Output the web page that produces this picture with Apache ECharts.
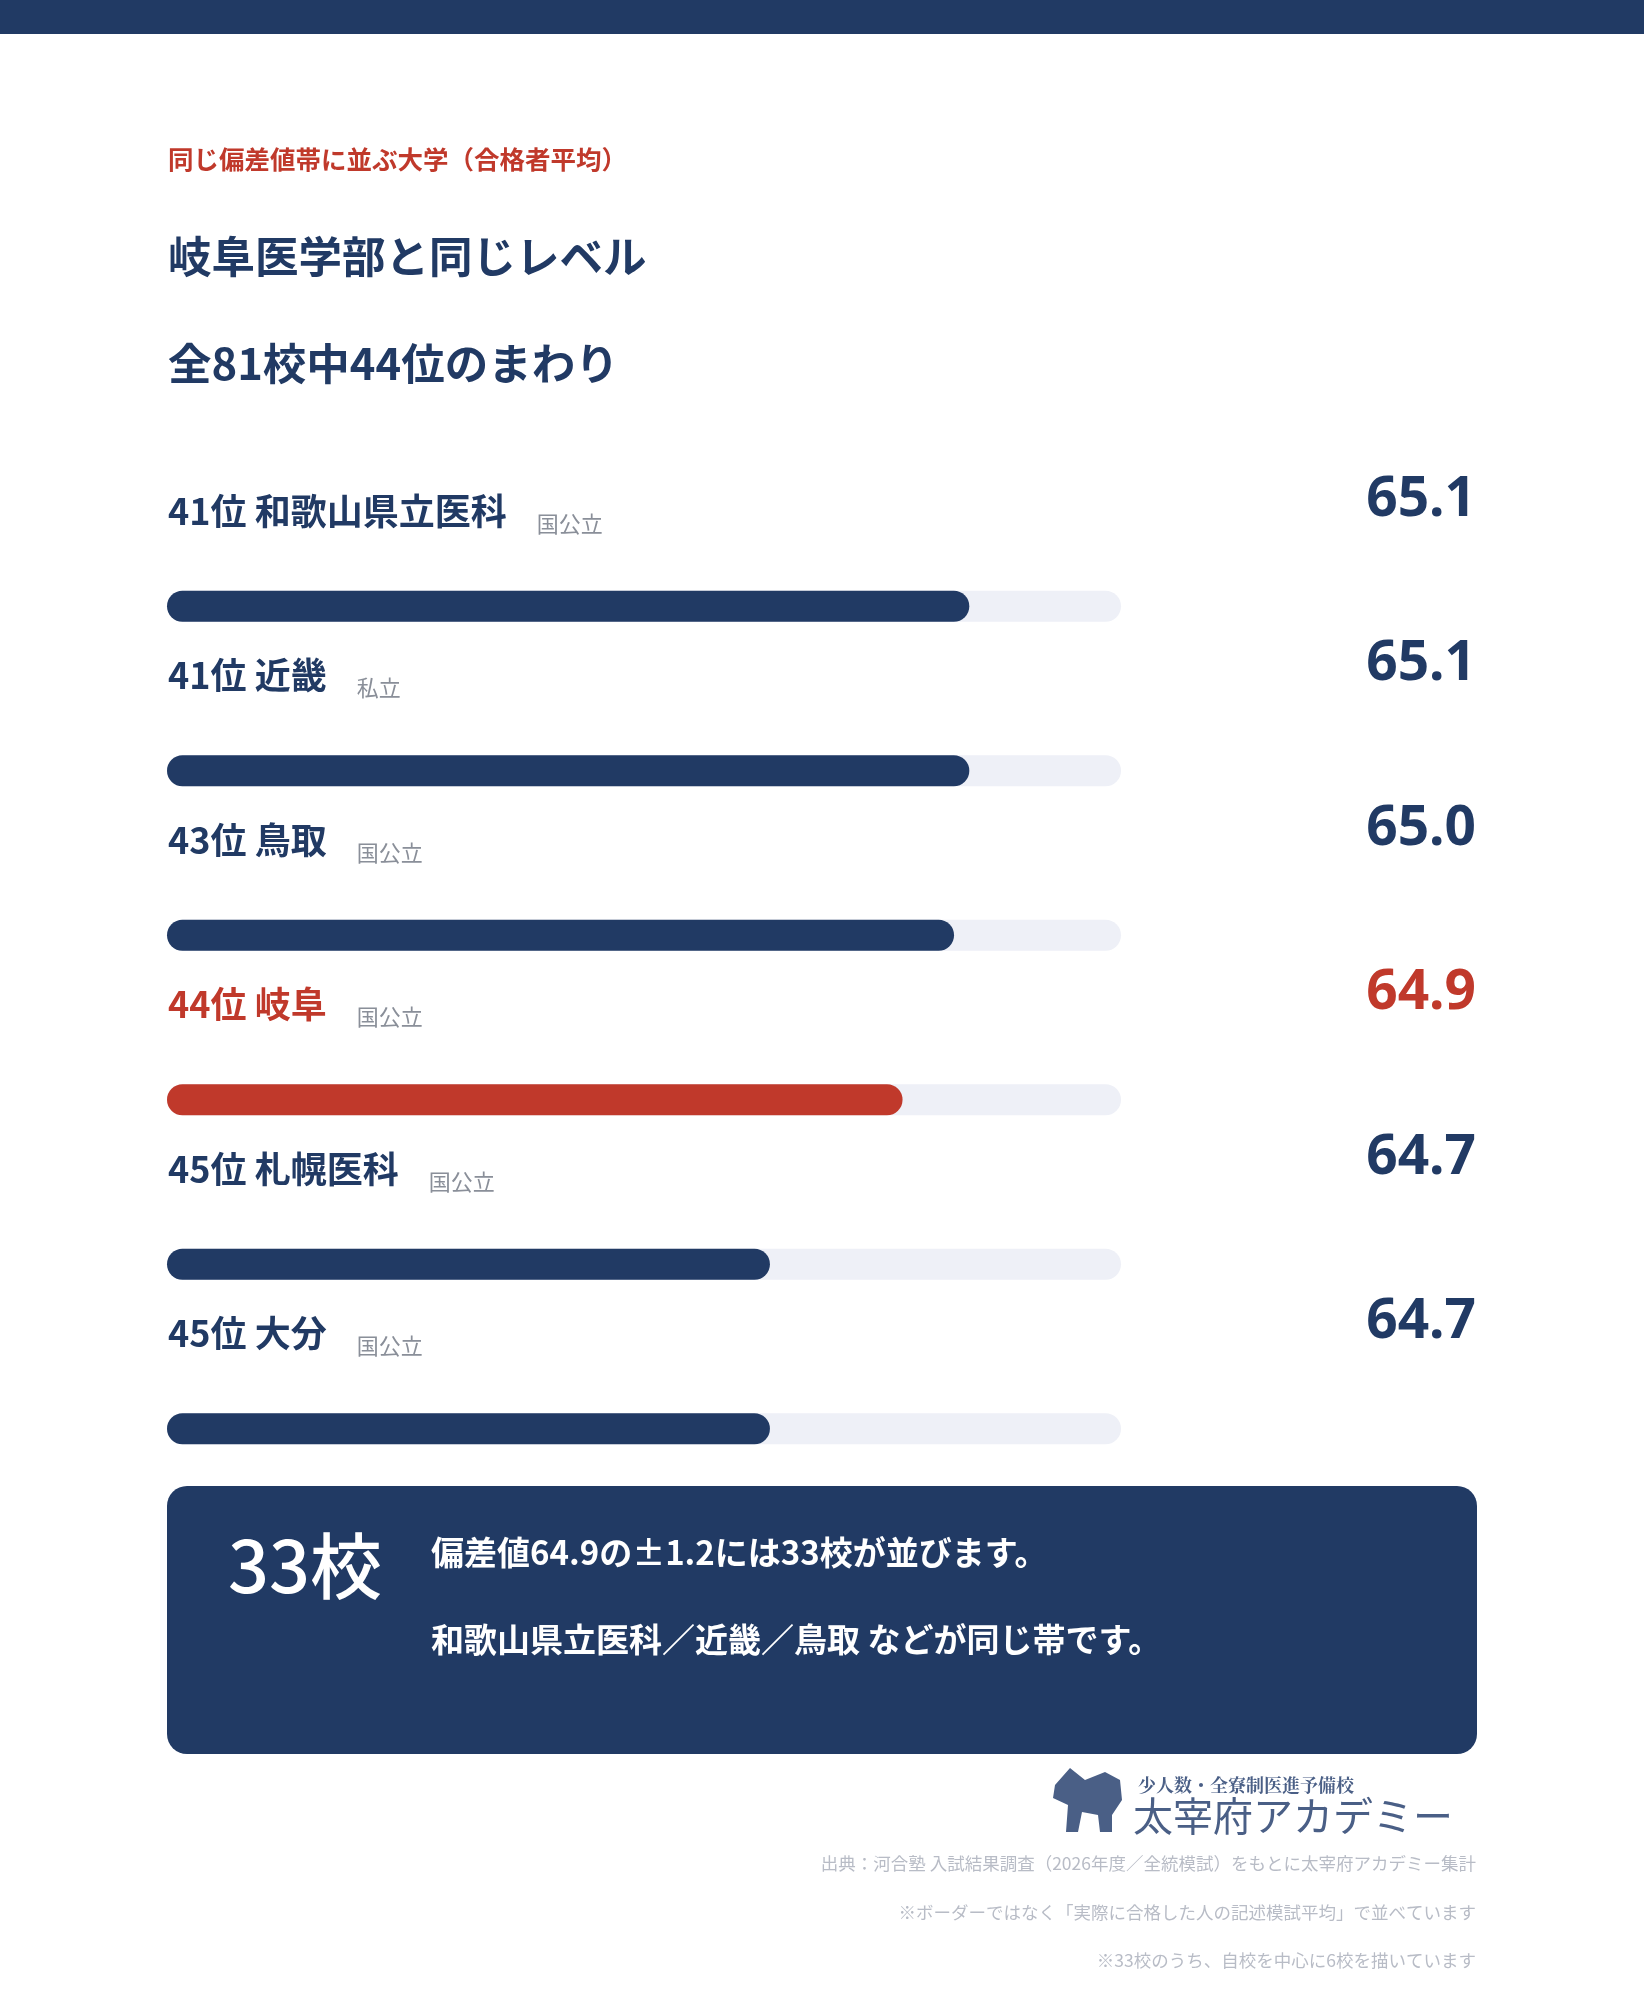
<!DOCTYPE html>
<html><head><meta charset="utf-8">
<script src="https://cdn.jsdelivr.net/npm/echarts@6/dist/echarts.min.js"></script>
<style>html,body{margin:0;padding:0;background:#fff}#c{width:1644px;height:2000px}</style>
</head><body><div id="c"></div>
<script>
const ranks = ['41位','41位','43位','44位','45位','45位'];
const names = ['和歌山県立医科','近畿','鳥取','岐阜','札幌医科','大分'];
const types = ['国公立','私立','国公立','国公立','国公立','国公立'];
const scores = ['65.1','65.1','65.0','64.9','64.7','64.7'];
const barShare = [0.841,0.841,0.825,0.771,0.632,0.632];
const highlightIndex = 3;
const NAVY='#213a64', RED='#c0392b', F='"Noto Sans CJK JP","Noto Sans",sans-serif';

const chart = echarts.init(document.getElementById('c'), null, {renderer:'canvas'});
chart.setOption({
  backgroundColor:'#fff',
  animation:false,
  grid:{left:167, width:954, top:524, height:987},
  xAxis:{type:'value', min:0, max:1, show:false},
  yAxis:{type:'category', data:names, inverse:true, show:false},
  series:[{
    type:'bar', barWidth:31,
    showBackground:true,
    backgroundStyle:{color:'#eef0f7', borderRadius:16},
    data: barShare.map((v,i)=>({value:v, itemStyle:{color: i===highlightIndex?RED:NAVY, borderRadius:16}}))
  }]
});

const g = [
  {type:'rect', shape:{x:0,y:0,width:1644,height:34}, style:{fill:NAVY}},
  {type:'text', x:168, y:159, style:{text:'同じ偏差値帯に並ぶ大学（合格者平均）', font:'bold 25.5px '+F, fill:RED, verticalAlign:'middle'}},
  {type:'text', x:168, y:256, style:{text:'岐阜医学部と同じレベル', font:'bold 43.5px '+F, fill:NAVY, verticalAlign:'middle'}},
  {type:'text', x:168, y:363, style:{text:'全81校中44位のまわり', font:'bold 43.5px '+F, fill:NAVY, verticalAlign:'middle'}},
  {type:'rect', shape:{x:167,y:1486,width:1310,height:268,r:20}, style:{fill:NAVY}},
  {type:'text', x:228, y:1566, style:{text:'33校', font:'500 72px '+F, fill:'#fff', verticalAlign:'middle'}},
  {type:'text', x:431, y:1552, style:{text:'偏差値64.9の±1.2には33校が並びます。', font:'bold 33px '+F, fill:'#fff', verticalAlign:'middle'}},
  {type:'text', x:431, y:1639, style:{text:'和歌山県立医科／近畿／鳥取 などが同じ帯です。', font:'bold 33px '+F, fill:'#fff', verticalAlign:'middle'}},
  {type:'polygon', shape:{points:[[1055,1785],[1070,1768],[1085,1780],[1105,1772],[1120,1780],[1122,1800],[1112,1815],[1112,1832],[1100,1832],[1098,1815],[1082,1812],[1078,1832],[1066,1832],[1068,1805],[1053,1798]]}, style:{fill:'#4a5f86'}},
  {type:'text', x:1138, y:1785, style:{text:'少人数・全寮制医進予備校', font:'bold 18px "Noto Serif CJK JP",'+F, fill:'#4a5f86', verticalAlign:'middle'}},
  {type:'text', x:1133, y:1816, style:{text:'太宰府アカデミー', font:'40px '+F, fill:'#4a5f86', verticalAlign:'middle'}},
  {type:'text', x:1476, y:1863, style:{text:'出典：河合塾 入試結果調査（2026年度／全統模試）をもとに太宰府アカデミー集計', font:'17.5px '+F, fill:'#b8bcc6', align:'right', verticalAlign:'middle'}},
  {type:'text', x:1476, y:1912, style:{text:'※ボーダーではなく「実際に合格した人の記述模試平均」で並べています', font:'17.5px '+F, fill:'#b8bcc6', align:'right', verticalAlign:'middle'}},
  {type:'text', x:1476, y:1960, style:{text:'※33校のうち、自校を中心に6校を描いています', font:'17.5px '+F, fill:'#b8bcc6', align:'right', verticalAlign:'middle'}}
];
names.forEach((n,i)=>{
  const yb = chart.convertToPixel({yAxisIndex:0}, n);
  const col = i===highlightIndex?RED:NAVY;
  g.push({type:'text', x:168, y:yb-95, style:{
    text:'{a|'+ranks[i]+' '+n+'}{t|'+types[i]+'}',
    rich:{a:{font:'bold 36px '+F, fill:col, padding:[0,30,0,0]}, t:{font:'22px '+F, fill:'#8a8f99', padding:[24,0,0,0]}},
    verticalAlign:'middle'}});
  g.push({type:'text', x:1476, y:yb-106, style:{text:scores[i], font:'bold 55px "Noto Sans",'+F, fill:col, align:'right', verticalAlign:'middle'}});
});
chart.setOption({graphic:g});
</script></body></html>
